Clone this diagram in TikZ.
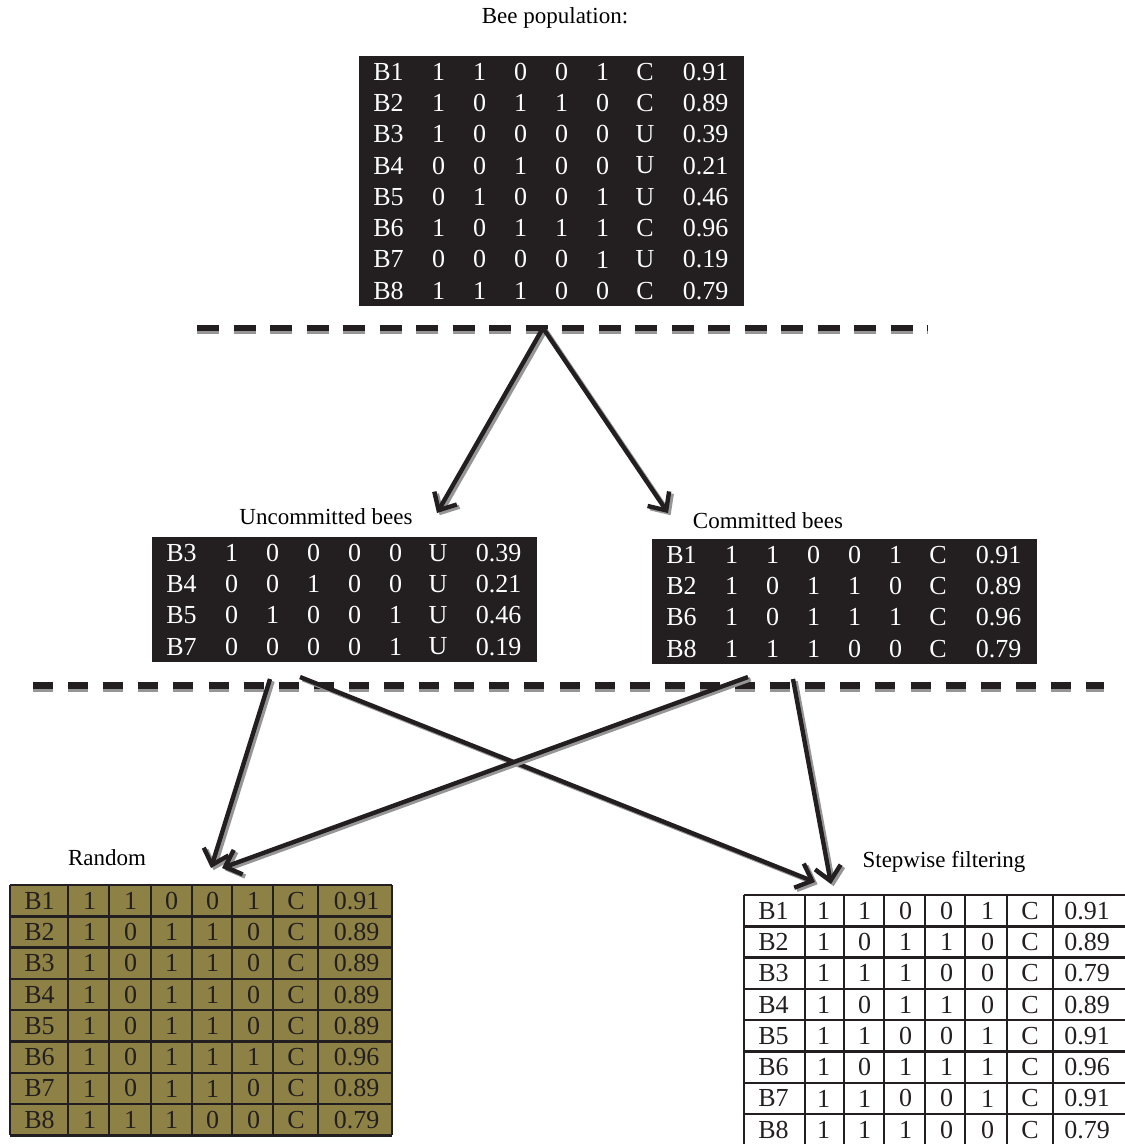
\documentclass[tikz,border=0pt]{standalone}
\usepackage{fontspec}
\setmainfont{Liberation Serif}
\usetikzlibrary{arrows.meta}
\definecolor{inkblack}{RGB}{35,31,32}
\definecolor{olivecell}{RGB}{141,129,70}
\definecolor{shadowgray}{RGB}{150,150,150}

\def\colx{{29.5,79.5,120.5,161.5,202.5,243.5,286,346.5}}
% #1 name, #2 left, #3 top, #4 cell style, #5 rows
\newcommand{\beetable}[5]{%
    \foreach \row [count=\i] in {#5}{
        \foreach \v [count=\j] in \row{
            \pgfmathsetmacro{\cx}{#2+\colx[\j-1]}
            \node[cell,#4] (#1-\i-\j) at (\cx,{#3+31.3*\i-15.65}) {\v};
        }
    }%
}
% #1 left, #2 top, #3 column borders
\newcommand{\beegrid}[3]{%
    \foreach \gx in {#3} \draw[gridline] (#1+\gx,#2) -- ++(0,250.4);
    \foreach \k in {0,...,8} \draw[gridline] (#1,{#2+31.3*\k}) -- ++(382,0);%
}
\newcommand{\shadedflow}[2]{%
    \draw[flow,shadowgray] ([shift={(1.3pt,-1.1pt)}]#1) -- ([shift={(1.3pt,-1.1pt)}]#2);
    \draw[flow] (#1) -- (#2);%
}

\tikzset{
    cell/.style={inner sep=0pt,font=\fontsize{13}{15}\selectfont},
    label/.style={inner sep=0pt,font=\fontsize{11.5}{13}\selectfont},
    gridline/.style={line width=1.2pt,inkblack},
    flow/.style={line width=2.2pt,inkblack,-{Straight Barb[length=7pt,width=13pt]}},
    cutline/.style={line width=3.4pt,inkblack},
    cutshadow/.style={line width=3.4pt,shadowgray}
}

\begin{document}
\begin{tikzpicture}[x=0.5pt,y=-0.5pt]
    \useasboundingbox (0,0) rectangle (1124,1144);

    \node[label] (poptitle) at (555,18) {Bee population:};
    \fill[inkblack] (359,56) rectangle ++(385,250.4);
    \beetable{pop}{359}{56}{text=white}{{B1,1,1,0,0,1,C,0.91},{B2,1,0,1,1,0,C,0.89},{B3,1,0,0,0,0,U,0.39},{B4,0,0,1,0,0,U,0.21},{B5,0,1,0,0,1,U,0.46},{B6,1,0,1,1,1,C,0.96},{B7,0,0,0,0,1,U,0.19},{B8,1,1,1,0,0,C,0.79}}

    \coordinate (cut1w) at (197,328);
    \coordinate (cut1e) at (928,328);
    \draw[cutshadow,dash pattern=on 11pt off 7.25pt] ([yshift=-1.5pt]cut1w) -- ([yshift=-1.5pt]cut1e);
    \draw[cutline,dash pattern=on 11pt off 7.25pt] (cut1w) -- (cut1e);

    \coordinate (popsplit) at (543,328);
    \coordinate (uncin) at (437,513);
    \coordinate (comin) at (668,513);
    \shadedflow{popsplit}{uncin}
    \shadedflow{popsplit}{comin}

    \node[label] (unctitle) at (326,517) {Uncommitted bees};
    \fill[inkblack] (152,537) rectangle ++(385,125.2);
    \beetable{unc}{152}{537}{text=white}{{B3,1,0,0,0,0,U,0.39},{B4,0,0,1,0,0,U,0.21},{B5,0,1,0,0,1,U,0.46},{B7,0,0,0,0,1,U,0.19}}

    \node[label] (comtitle) at (768,521) {Committed bees};
    \fill[inkblack] (652,539) rectangle ++(385,125.2);
    \beetable{com}{652}{539}{text=white}{{B1,1,1,0,0,1,C,0.91},{B2,1,0,1,1,0,C,0.89},{B6,1,0,1,1,1,C,0.96},{B8,1,1,1,0,0,C,0.79}}

    \coordinate (cut2w) at (33,685.5);
    \coordinate (cut2e) at (1104,685.5);
    \draw[cutshadow,dash pattern=on 10pt off 7.55pt] ([yshift=-1.5pt]cut2w) -- ([yshift=-1.5pt]cut2e);
    \draw[cutline,dash pattern=on 10pt off 7.55pt] (cut2w) -- (cut2e);

    \coordinate (uncout1) at (270,679);
    \coordinate (uncout2) at (300,677);
    \coordinate (comout1) at (748,677);
    \coordinate (comout2) at (793,679);
    \coordinate (randin1) at (211,868);
    \coordinate (randin2) at (222,868);
    \coordinate (stepin1) at (815,882);
    \coordinate (stepin2) at (831,884);
    \shadedflow{uncout1}{randin1}
    \shadedflow{uncout2}{stepin1}
    \shadedflow{comout1}{randin2}
    \shadedflow{comout2}{stepin2}

    \node[label] (randtitle) at (107,858) {Random};
    \fill[olivecell] (10,885) rectangle ++(382,250.4);
    \beegrid{10}{885}{0,58,99,141,182,222,263,308,382}
    \beetable{rand}{10}{885}{text=inkblack}{{B1,1,1,0,0,1,C,0.91},{B2,1,0,1,1,0,C,0.89},{B3,1,0,1,1,0,C,0.89},{B4,1,0,1,1,0,C,0.89},{B5,1,0,1,1,0,C,0.89},{B6,1,0,1,1,1,C,0.96},{B7,1,0,1,1,0,C,0.89},{B8,1,1,1,0,0,C,0.79}}

    \node[label] (steptitle) at (944,862) {Stepwise filtering};
    \def\colx{{29.5,79.5,120.5,161.5,202.5,243.5,286,343}}
    \beegrid{744}{895}{0,61,100,140,181,221,263,309,382}
    \beetable{step}{744}{895}{text=inkblack}{{B1,1,1,0,0,1,C,0.91},{B2,1,0,1,1,0,C,0.89},{B3,1,1,1,0,0,C,0.79},{B4,1,0,1,1,0,C,0.89},{B5,1,1,0,0,1,C,0.91},{B6,1,0,1,1,1,C,0.96},{B7,1,1,0,0,1,C,0.91},{B8,1,1,1,0,0,C,0.79}}
\end{tikzpicture}
\end{document}
